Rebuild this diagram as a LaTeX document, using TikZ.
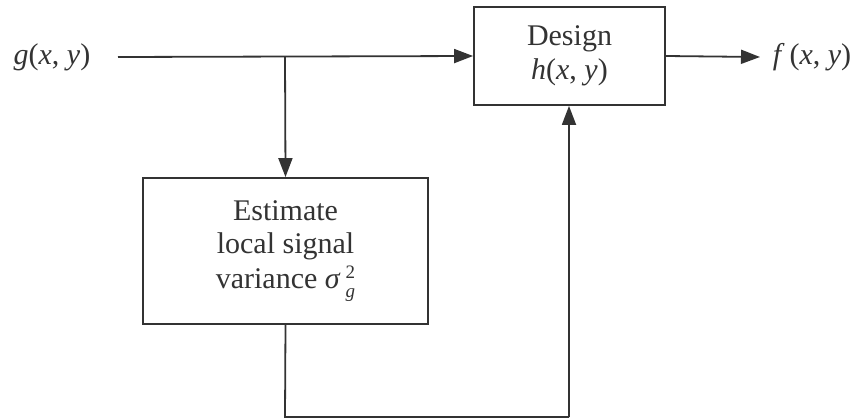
\documentclass[tikz,border=0pt]{standalone}
\usepackage{fontspec}
\setmainfont{Liberation Serif}
\usetikzlibrary{arrows.meta}
\definecolor{ink}{HTML}{333333}
\tikzset{
  block/.style={draw=ink, line width=1.8pt, rectangle, align=center, inner sep=0pt},
  link/.style={draw=ink, line width=1.8pt},
  flow/.style={link, -{Triangle[length=19pt, width=14pt]}},
  label/.style={text=ink, inner sep=0pt}
}
\newcommand{\vr}[1]{\textit{#1}}
% sigma with stacked superscript 2 and subscript g
\newcommand{\sigmag}{\textit{σ}\kern5pt%
  \rlap{\raisebox{10pt}{\fontsize{19}{19}\selectfont 2}}%
  \raisebox{-9pt}{\fontsize{19}{19}\selectfont\textit{g}}}
\begin{document}
\begin{tikzpicture}[x=1pt, y=-1pt, font=\fontsize{30}{36}\selectfont, text=ink]
  \useasboundingbox (0,0) rectangle (857,418);

  % blocks
  \node[block, minimum width=191pt, minimum height=98pt] (design) at (569.5,56)
    {Design\\[-2pt]\vr{h}(\vr{x}, \vr{y})};
  \node[block, minimum width=285pt, minimum height=146pt] (est) at (285.5,251)
    {Estimate\\[-3pt]local signal\\[-1pt]variance \sigmag};

  % signal labels
  \node[label] (in) at (52,57) {\vr{g}(\vr{x}, \vr{y})};
  \node[label] (out) at (812,57) {\vr{f}\,(\vr{x}, \vr{y})};

  % routing points
  \coordinate (start) at (118,57);
  \coordinate (tap) at (285,57);
  \coordinate (endline) at (760,57);
  \coordinate (low1) at (285,417);
  \coordinate (low2) at (569,417);

  % connectors
  \draw[flow] (start) -- (design.west);
  \draw[flow] (tap) -- (est.north);
  \draw[flow] (design.east) -- (endline);
  \draw[link] (est.south) -- (low1) -- (low2);
  \draw[flow] (low2) -- (low2 |- design.south);
\end{tikzpicture}
\end{document}
